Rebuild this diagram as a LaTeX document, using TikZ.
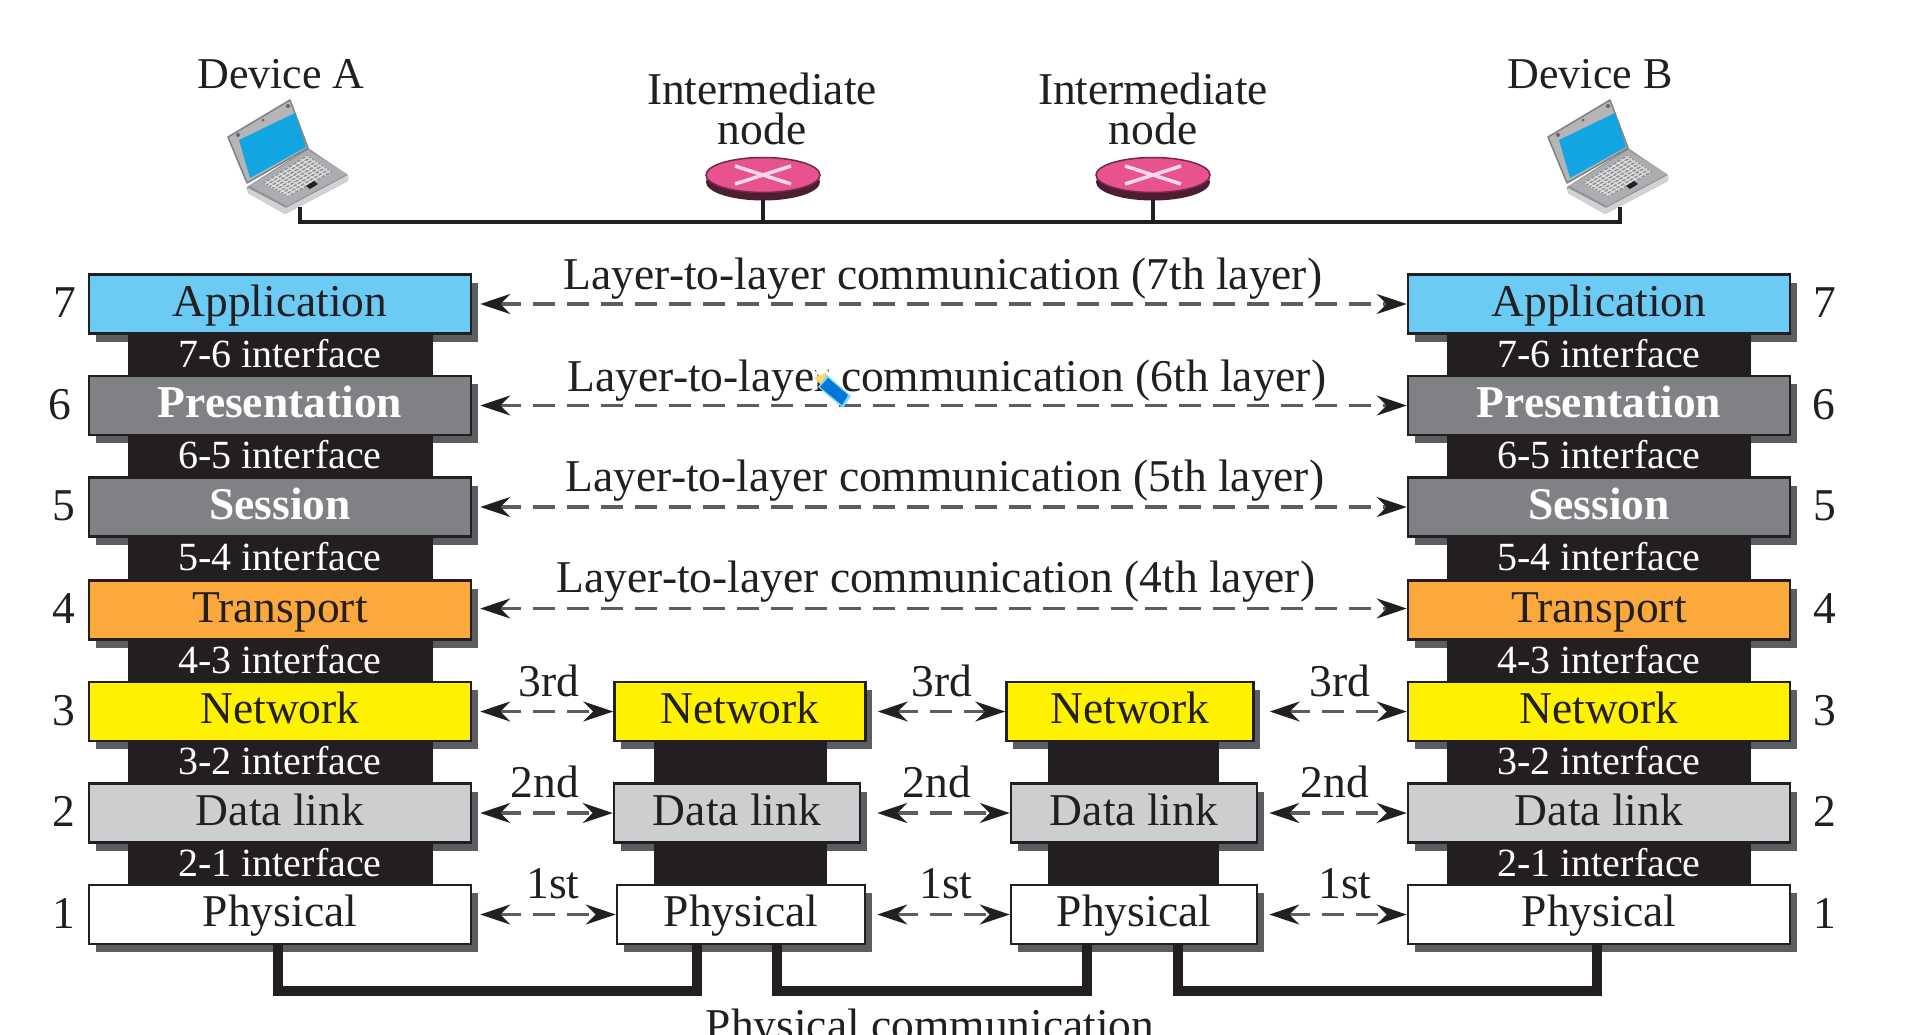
\documentclass[tikz,border=0pt]{standalone}
\usepackage{fontspec}
\setmainfont{Liberation Serif}
\usetikzlibrary{arrows.meta,shapes.geometric,shadows,calc}
\definecolor{inkblack}{HTML}{231F20}
\definecolor{shadowgray}{HTML}{5C5D60}
\definecolor{appblue}{HTML}{6CCBF4}
\definecolor{midgray}{HTML}{7F8184}
\definecolor{transorange}{HTML}{FBA93C}
\definecolor{netyellow}{HTML}{FFF200}
\definecolor{linkgray}{HTML}{CDCED0}
\definecolor{routerpink}{HTML}{E8528F}
\definecolor{routerdark}{HTML}{6E2A48}
\definecolor{screenblue}{HTML}{12A5E2}
\definecolor{lapgray}{HTML}{ABADB0}
\newcommand\bigtxt{\fontsize{45.5}{40}\selectfont}
\newcommand\devtxt{\fontsize{44}{44}\selectfont}
\newcommand\ifacetxt{\fontsize{40}{42}\selectfont}
\tikzset{
  x=1pt,y=-1pt,
  layer/.style={draw=inkblack,line width=2.5pt,minimum height=59pt,inner sep=0pt,
    text height=30pt,text depth=6pt,font=\bigtxt,text=inkblack,
    general shadow={fill=shadowgray,shadow xshift=6.5pt,shadow yshift=-8pt}},
  applayer/.style={fill=appblue},
  graylayer/.style={fill=midgray,text=white,font=\bigtxt\bfseries},
  translayer/.style={fill=transorange},
  netlayer/.style={fill=netyellow},
  linklayer/.style={fill=linkgray},
  physlayer/.style={fill=white},
  iface/.style={fill=inkblack,text=white,font=\ifacetxt,minimum height=41pt,inner sep=0pt,
    text height=24pt,text depth=0pt},
  txt/.style={font=\bigtxt,text=inkblack,anchor=base,inner sep=0pt},
  peer/.style={draw=shadowgray,line width=3.5pt,dash pattern=on 22pt off 12pt,
    {Stealth[length=30pt,width=20pt,inset=10pt,color=inkblack]}-{Stealth[length=30pt,width=20pt,inset=10pt,color=inkblack]}},
  bus/.style={draw=inkblack,line width=3.5pt},
  phys/.style={draw=inkblack,line width=10pt,line join=miter}
}
\newcommand\lyr[6]{\node[layer,#2,minimum width=#5pt] (#1) at (#3,#4) {#6};}
\newcommand\ifc[5]{\node[iface,minimum width=#4pt] (#1) at (#2,#3) {#5};}
\newcommand\lapdev[2]{%
  \begin{scope}[shift={(#1,0)}]
    \fill[lapgray!85!black] (247,187) -- (308,148) -- (348,175) -- (348,181) -- (285,214) -- (248,193) -- cycle;
    \fill[lapgray] (250,186) -- (308,150) -- (347,174) -- (287,206) -- cycle;
    \fill[gray!35] (248,188) -- (286,208) -- (348,175) -- (348,181) -- (285,214) -- (248,193) -- cycle;
    \fill[gray!85] (263,183) -- (307,155) -- (332,172) -- (288,197) -- cycle;
    \foreach \t in {0.08,0.2,...,1.0}{
      \draw[gray!25,line width=1.2pt] ($(263,183)!\t!(288,197)$) -- ($(307,155)!\t!(332,172)$);
    }
    \foreach \t in {0.06,0.16,...,1.0}{
      \draw[gray!25,line width=1.1pt] ($(263,183)!\t!(307,155)$) -- ($(288,197)!\t!(332,172)$);
    }
    \fill[inkblack] (306,186) -- (314,181) -- (318,184) -- (310,189) -- cycle;
    \fill[lapgray!90!white,draw=gray,line width=1.5pt,line join=round] (228,137) -- (290,100) -- (308,148) -- (247,183) -- cycle;
    \fill[screenblue] (239,140) -- (295,113) -- (306,147) -- (250,178) -- cycle;
    \fill[inkblack!70] (238,135) circle (2pt) (288,106) circle (2pt) (263,120) circle (1.5pt);
    \coordinate (#2) at (300,207);
  \end{scope}}
\newcommand\routerdev[2]{%
  \fill[routerdark!70!black] (#1,182) ellipse [x radius=57,y radius=18.5];
  \node[ellipse,fill=routerpink,draw=routerdark,line width=1.5pt,minimum width=114pt,minimum height=35pt,inner sep=0pt] (#2) at (#1,175) {};
  \draw[white!80!routerpink,line width=3.5pt] (#1-28,166) -- (#1+28,184) (#1-28,184) -- (#1+28,166);
  \coordinate (#2s) at (#1,200);}
\begin{document}
\begin{tikzpicture}
\useasboundingbox (0,0) rectangle (1907,1034);
\clip (0,0) rectangle (1907,1034);
\fill[white] (0,0) rectangle (1907,1034);

% header
\node[txt,font=\devtxt] (devA) at (281,88) {Device A};
\node[txt,font=\devtxt] (devB) at (1590,88) {Device B};
\node[txt,align=center,anchor=center] (intA) at (762,108.5) {Intermediate\\node};
\node[txt,align=center,anchor=center] (intB) at (1153,108.5) {Intermediate\\node};
\lapdev{0}{lapA}
\lapdev{1320}{lapB}
\routerdev{763}{rA}
\routerdev{1153}{rB}
\coordinate (busL) at (300,222);
\coordinate (busR) at (1620,222);
\draw[bus] (lapA) -- (busL) -- (busR) -- (lapB);
\draw[bus] (rAs) -- (rAs |- busL);
\draw[bus] (rBs) -- (rBs |- busL);

% physical connector corners
\coordinate (u1) at (697,991);
\coordinate (u2) at (1087,991);
\coordinate (u3) at (1597,991);
\coordinate (s1) at (278,991);
\coordinate (s2) at (777,991);
\coordinate (s3) at (1178,991);

% device A stack
\lyr{appA}{applayer}{280}{304}{382}{Application}
\lyr{preA}{graylayer}{280}{405.5}{382}{Presentation}
\lyr{sesA}{graylayer}{280}{507}{382}{Session}
\lyr{traA}{translayer}{280}{610}{382}{Transport}
\lyr{netA}{netlayer}{280}{711.5}{382}{Network}
\lyr{dlkA}{linklayer}{280}{813}{382}{Data link}
\lyr{phyA}{physlayer}{280}{914.5}{382}{Physical}
% device B stack
\lyr{appB}{applayer}{1599}{304}{382}{Application}
\lyr{preB}{graylayer}{1599}{405.5}{382}{Presentation}
\lyr{sesB}{graylayer}{1599}{507}{382}{Session}
\lyr{traB}{translayer}{1599}{610}{382}{Transport}
\lyr{netB}{netlayer}{1599}{711.5}{382}{Network}
\lyr{dlkB}{linklayer}{1599}{813}{382}{Data link}
\lyr{phyB}{physlayer}{1599}{914.5}{382}{Physical}
% intermediate stacks
\lyr{netC}{netlayer}{740}{711.5}{251}{Network}
\lyr{dlkC}{linklayer}{737}{813}{246}{Data link}
\lyr{phyC}{physlayer}{741}{914.5}{248}{Physical}
\lyr{netD}{netlayer}{1130}{711.5}{247}{Network}
\lyr{dlkD}{linklayer}{1134}{813}{246}{Data link}
\lyr{phyD}{physlayer}{1134}{914.5}{246}{Physical}

% interfaces
\ifc{ifA7}{280}{355}{305}{7-6 interface}
\ifc{ifA6}{280}{456}{305}{6-5 interface}
\ifc{ifA5}{280}{558.5}{305}{5-4 interface}
\ifc{ifA4}{280}{661}{305}{4-3 interface}
\ifc{ifA3}{280}{762}{305}{3-2 interface}
\ifc{ifA2}{280}{864}{305}{2-1 interface}
\ifc{ifB7}{1599}{355}{304}{7-6 interface}
\ifc{ifB6}{1599}{456}{304}{6-5 interface}
\ifc{ifB5}{1599}{558.5}{304}{5-4 interface}
\ifc{ifB4}{1599}{661}{304}{4-3 interface}
\ifc{ifB3}{1599}{762}{304}{3-2 interface}
\ifc{ifB2}{1599}{864}{304}{2-1 interface}
\ifc{ifC3}{740.5}{762}{173}{}
\ifc{ifC2}{740.5}{864}{173}{}
\ifc{ifD3}{1133.5}{762}{171}{}
\ifc{ifD2}{1133.5}{864}{171}{}

% physical medium
\draw[phys] (phyA.south -| s1) |- (u1) -- (u1 |- phyC.south);
\draw[phys] (phyC.south -| s2) |- (u2) -- (u2 |- phyD.south);
\draw[phys] (phyD.south -| s3) |- (u3) -- (u3 |- phyB.south);

% peer arrows
\draw[peer,shorten <=8pt] (appA.east) -- (appB.west);
\draw[peer,shorten <=8pt] (preA.east) -- (preB.west);
\draw[peer,shorten <=8pt] (sesA.east) -- (sesB.west);
\draw[peer,shorten <=8pt] ([yshift=1.5pt]traA.east) -- ([yshift=1.5pt]traB.west);
\draw[peer,shorten <=8pt] (netA.east) -- (netC.west);
\draw[peer,shorten <=11pt] (netC.east) -- (netD.west);
\draw[peer,shorten <=15pt] (netD.east) -- (netB.west);
\draw[peer,shorten <=8pt] (dlkA.east) -- (dlkC.west);
\draw[peer,shorten <=16pt] (dlkC.east) -- (dlkD.west);
\draw[peer,shorten <=11pt] (dlkD.east) -- (dlkB.west);
\draw[peer,shorten <=8pt] (phyA.east) -- (phyC.west);
\draw[peer,shorten <=11pt] (phyC.east) -- (phyD.west);
\draw[peer,shorten <=11pt] (phyD.east) -- (phyB.west);

% layer texts
\node[txt] (t7) at (943,289) {Layer-to-layer communication (7th layer)};
\node[txt] (t6) at (947,391) {Layer-to-layer communication (6th layer)};
\node[txt] (t5) at (945,491) {Layer-to-layer communication (5th layer)};
\node[txt] (t4) at (936,592) {Layer-to-layer communication (4th layer)};
\node[txt] (o31) at (549,696) {3rd};
\node[txt] (o32) at (942,696) {3rd};
\node[txt] (o33) at (1340,696) {3rd};
\node[txt] (o21) at (545,797) {2nd};
\node[txt] (o22) at (937,797) {2nd};
\node[txt] (o23) at (1335,797) {2nd};
\node[txt] (o11) at (553,898) {1st};
\node[txt] (o12) at (946,898) {1st};
\node[txt] (o13) at (1345,898) {1st};

% layer numbers
\node[txt] (nL7) at (65,317) {7};
\node[txt] (nL6) at (60,419) {6};
\node[txt] (nL5) at (64,520) {5};
\node[txt] (nL4) at (64,623) {4};
\node[txt] (nL3) at (64,725) {3};
\node[txt] (nL2) at (64,826) {2};
\node[txt] (nL1) at (64,928) {1};
\node[txt] (nR7) at (1825,317) {7};
\node[txt] (nR6) at (1824,419) {6};
\node[txt] (nR5) at (1825,520) {5};
\node[txt] (nR4) at (1825,623) {4};
\node[txt] (nR3) at (1825,725) {3};
\node[txt] (nR2) at (1825,826) {2};
\node[txt] (nR1) at (1825,928) {1};

\node[txt] (physcap) at (930,1040) {Physical communication};

% cursor marker
\fill[white] (816,370) -- (826,368) -- (836,383) -- (826,392) -- cycle;
\fill[yellow!55!orange!60!white] (814,378) -- (825,373) -- (831,379) -- (822,386) -- cycle;
\fill[cyan!50!white] (827,375) -- (851,396) -- (843,408) -- (818,387) -- cycle;
\fill[blue!45!cyan!85!black] (828,378) -- (848,395) -- (842,405) -- (820,387) -- cycle;
\end{tikzpicture}
\end{document}
